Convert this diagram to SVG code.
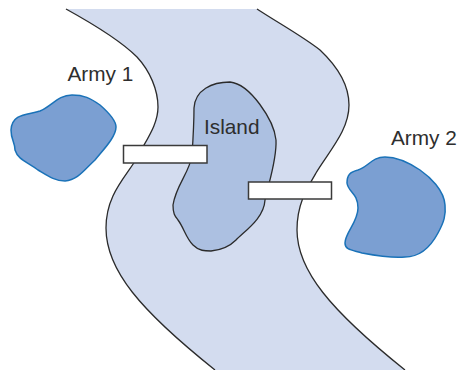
<svg xmlns="http://www.w3.org/2000/svg" width="461" height="370" viewBox="0 0 461 370">
<style>
.bank{fill:none;stroke:#2b2b2b;stroke-width:1.3}
.army{fill:#7b9fd2;stroke:#1a72b8;stroke-width:1.5}
.bridge{fill:#fff;stroke:#3a3a3a;stroke-width:1.5}
text{font-family:"Liberation Sans",Arial,sans-serif;font-size:20.800px;fill:#2e2e2e}
</style>
<rect width="461" height="370" fill="#fff"/>
<g id="river">
<path fill="#d3dcef" d="M66 9C95 25 120 40 137 57C150 71 158 90 158 107C158 125 146 140 137 158C125 178 106 195 106 228C106 270 140 310 215 370L405 370C330 310 297 270 297 230C297 205 306 190 316 173C330 150 349 130 349 105C349 85 337 66 320 50C302 36 280 24 257 9Z"/>
<path class="bank" d="M66 9C95 25 120 40 137 57C150 71 158 90 158 107C158 125 146 140 137 158C125 178 106 195 106 228C106 270 140 310 215 370"/>
<path class="bank" d="M257 9C280 24 302 36 320 50C337 66 349 85 349 105C349 130 330 150 316 173C306 190 297 205 297 230C297 270 330 310 405 370"/>
</g>
<g id="island">
<path fill="#acc0e1" stroke="#2b2b2b" stroke-width="1.3" d="M230 82C212 82 195 90 194 108C194 125 193 140 192 155C190 172 176 185 173 205C173 214 175 216 178 220C184 228 186 238 193 245C199 251 205 251 211 251C222 250 229 247 236 240C246 230 264 218 265 200C268 185 277 160 276 140C274 120 250 84 230 82Z"/>
<text x="204" y="134">Island</text>
</g>
<g id="army1">
<path class="army" d="M72 95C58 95 52 106 40 111C28 115 12 113 11 130C11 140 15 142 15 150C18 160 28 162 38 170C48 176 55 181 65 181C78 180 84 170 95 160C103 150 116 137 116 127C116 120 108 112 100 105C90 98 84 95 72 95Z"/>
<text x="67.500" y="81">Army 1</text>
</g>
<g id="army2">
<path class="army" d="M385 157C372 157 368 167 358 170C350 172 347 175 347 183C348 192 358 193 358 208C358 222 345 233 345 243C345 250 352 250 362 253C378 256 395 258 405 257C420 257 430 248 438 233C444 222 446 215 445 205C444 190 430 177 420 170C408 162 395 157 385 157Z"/>
<text x="391" y="145">Army 2</text>
</g>
<g id="bridge1"><rect class="bridge" x="123.500" y="145.500" width="83.500" height="17.500"/></g>
<g id="bridge2"><rect class="bridge" x="248.500" y="182" width="83" height="17"/></g>
</svg>
